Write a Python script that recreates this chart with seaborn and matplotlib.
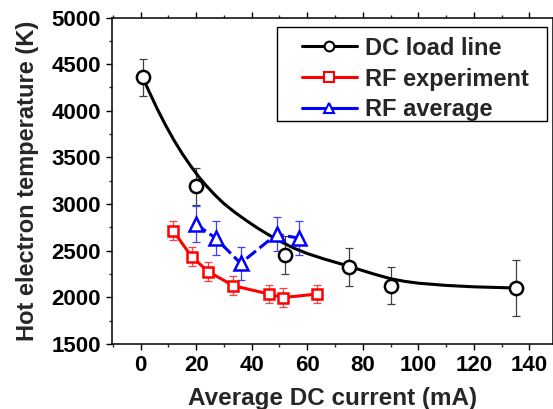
import numpy as np
import pandas as pd
import matplotlib
matplotlib.use('Agg')
import matplotlib.pyplot as plt
from matplotlib.lines import Line2D
from matplotlib.patches import Rectangle
from matplotlib.ticker import MultipleLocator
import seaborn as sns

# DC load line points (mA, K) and errors
dc_x = [0.7, 20, 52, 75, 90, 135]
dc_y = [4360, 3190, 2455, 2325, 2125, 2100]
dc_err = [200, 200, 200, 200, 200, 300]

# smooth fit curve
fit_x = [0.7, 3, 6, 9, 12, 15, 18, 21, 24, 27, 30, 34, 38, 42, 46, 50, 55, 60, 66, 72, 78,
         84, 90, 95, 100, 110, 120, 135]
fit_y = [4360, 4210, 4020, 3845, 3685, 3540, 3410, 3290, 3185, 3090, 3005, 2910, 2825, 2745,
         2672, 2605, 2530, 2470, 2412, 2360, 2305, 2250, 2200, 2172, 2152, 2128, 2113, 2100]

# RF experiment
rf_x = [11.7, 18.4, 24.4, 33.4, 46.3, 51.4, 63.4]
rf_y = [2715, 2435, 2275, 2125, 2035, 1998, 2035]
rf_err = [100, 100, 100, 100, 100, 100, 100]

# RF average
avg_x = [19.9, 27, 36, 49, 57]
avg_y = [2785, 2635, 2365, 2677, 2635]
avg_err = [190, 180, 180, 180, 180]

sns.set_style("ticks")
plt.rcParams['font.family'] = ['Liberation Sans', 'DejaVu Sans']
plt.rcParams['font.weight'] = 'bold'

fig = plt.figure(figsize=(5.53, 4.09), dpi=100)
ax = fig.add_axes([112 / 553, 1 - 344 / 409, 1 - 112 / 553, (344 - 17.5) / 409])

fit = pd.DataFrame({'x': fit_x, 'y': fit_y})
sns.lineplot(data=fit, x='x', y='y', sort=False, color='black', lw=2.2, ax=ax, zorder=3)

rf = pd.DataFrame({'x': rf_x, 'y': rf_y})
sns.lineplot(data=rf, x='x', y='y', sort=False, color='#ff0000', lw=2.2, ax=ax, zorder=3)

avg = pd.DataFrame({'x': avg_x, 'y': avg_y})
sns.lineplot(data=avg, x='x', y='y', sort=False, color='#0000ff', lw=2.2, ax=ax, zorder=3,
             linestyle=(0, (4, 1.5)))

ax.errorbar(dc_x, dc_y, yerr=dc_err, fmt='none', ecolor='#404040', elinewidth=0.9,
            capsize=3, capthick=0.9, zorder=2)
ax.errorbar(rf_x, rf_y, yerr=rf_err, fmt='none', ecolor='#ff4040', elinewidth=0.9,
            capsize=3, capthick=0.9, zorder=2)
ax.errorbar(avg_x, avg_y, yerr=avg_err, fmt='none', ecolor='#4040ff', elinewidth=0.9,
            capsize=3, capthick=0.9, zorder=2)

ax.plot(dc_x, dc_y, 'o', ms=9.5, mfc='white', mec='black', mew=1.8, zorder=4)
ax.plot(rf_x, rf_y, 's', ms=7.5, mfc='white', mec='#ff0000', mew=1.8, zorder=4)
ax.plot(avg_x, avg_y, '^', ms=10, mfc='white', mec='#0000ff', mew=1.8, zorder=4)

ax.set_xlim(-10.3, 148.5)
ax.set_ylim(1500, 5000)
ax.xaxis.set_major_locator(MultipleLocator(20))
ax.xaxis.set_minor_locator(MultipleLocator(10))
ax.yaxis.set_major_locator(MultipleLocator(500))
ax.yaxis.set_minor_locator(MultipleLocator(250))

for s in ax.spines.values():
    s.set_linewidth(1.1)
    s.set_color('black')
ax.tick_params(which='major', direction='out', length=4.5, width=1.0, labelsize=16, colors='black')
ax.tick_params(which='minor', direction='out', length=2.5, width=1.0)
ax.tick_params(which='both', top=True, right=False)
for t in ax.get_xticklabels() + ax.get_yticklabels():
    t.set_fontweight('bold')

ax.set_xlabel('Average DC current (mA)', fontsize=17.5, fontweight='bold', labelpad=8)
ax.set_ylabel('Hot electron temperature (K)', fontsize=17, fontweight='bold', labelpad=9)

handles = [
    Line2D([], [], color='black', lw=2.2, marker='o', ms=7, mfc='white', mec='black', mew=1.5),
    Line2D([], [], color='#ff0000', lw=2.2, marker='s', ms=6.5, mfc='white', mec='#ff0000', mew=1.5),
    Line2D([], [], color='#0000ff', lw=2.2, marker='^', ms=7.5, mfc='white', mec='#0000ff', mew=1.5),
]
labels = ['DC load line', 'RF experiment', 'RF average']
leg = ax.legend(handles, labels, loc='upper left', bbox_to_anchor=(0.430, 0.941),
                prop={'size': 17, 'weight': 'bold'}, frameon=False,
                handlelength=2.33, handletextpad=0.35, labelspacing=0.33,
                borderpad=0, borderaxespad=0, numpoints=1)
ax.add_patch(Rectangle((0.374, 0.683), 0.612, 0.288, transform=ax.transAxes, fill=False,
                       edgecolor='black', lw=1.0, zorder=5))

fig.savefig('out.png', dpi=100)
